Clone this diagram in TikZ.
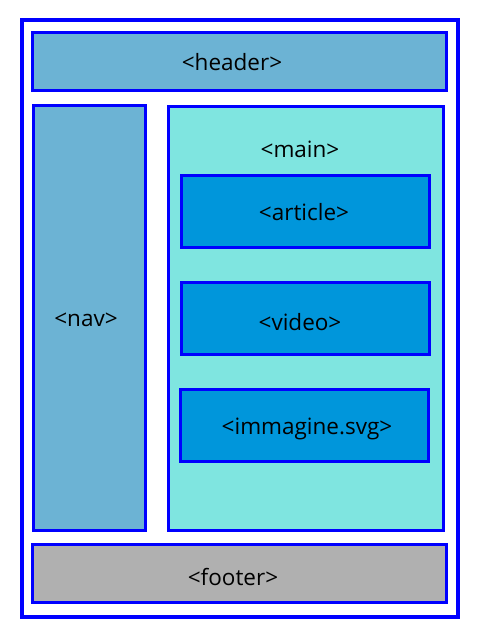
\documentclass[tikz,border=0pt]{standalone}
\usepackage{fontspec}
\setmainfont{Open Sans}
\definecolor{bord}{RGB}{0,0,255}
\definecolor{hdr}{RGB}{108,179,212}
\definecolor{mainc}{RGB}{127,229,224}
\definecolor{art}{RGB}{0,150,219}
\definecolor{foot}{RGB}{176,176,176}
\tikzset{
  box/.style={draw=bord, line width=3pt},
  lbl/.style={font=\fontsize{22.5}{26}\selectfont, text=black, inner sep=0pt, anchor=base}
}
\begin{document}
\begin{tikzpicture}[x=1pt,y=-1pt]
\useasboundingbox (0,0) rectangle (480,640);
\draw[draw=bord, line width=4pt] (22,20) rectangle (458,617);
\draw[box, fill=hdr] (32.5,32.5) rectangle (446,90);
\node[lbl] (header) at (232,70) {<header>};
\draw[box, fill=hdr] (33.5,105.5) rectangle (145.5,530.5);
\node[lbl] (nav) at (86,326) {<nav>};
\draw[box, fill=mainc] (168.5,106.5) rectangle (443,530);
\node[lbl] (main) at (300,157) {<main>};
\draw[box, fill=art] (181.5,175) rectangle (429,247);
\node[lbl] (article) at (304,220) {<article>};
\draw[box, fill=art] (181.5,282) rectangle (429,354);
\node[lbl] (video) at (300,330) {<video>};
\draw[box, fill=art] (180.5,389) rectangle (428,461);
\node[lbl] (img) at (307,434) {<immagine.svg>};
\draw[box, fill=foot] (32.5,544) rectangle (446,602);
\node[lbl] (footer) at (233,585) {<footer>};
\end{tikzpicture}
\end{document}
